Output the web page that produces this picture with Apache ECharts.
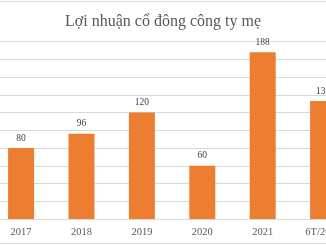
<!DOCTYPE html>
<html>
<head>
<meta charset="utf-8">
<script src="https://cdn.jsdelivr.net/npm/echarts@6/dist/echarts.min.js"></script>
<style>
  html, body { margin: 0; padding: 0; background: #ffffff; }
  #chart { width: 326px; height: 245px; }
</style>
</head>
<body>
<div id="chart"></div>
<script>
// Lợi nhuận cổ đông công ty mẹ (tỷ đồng)
const categories = ['2017', '2018', '2019', '2020', '2021', '6T/2022'];
const profit = [80, 96, 120, 60, 188, 133];
const yMin = 0;
const yMax = 200;
const yStep = 20;

const chart = echarts.init(document.getElementById('chart'), null, { renderer: 'canvas' });

chart.setOption({
  backgroundColor: '#ffffff',
  animation: false,
  title: {
    text: 'Lợi nhuận cổ đông công ty mẹ',
    left: 'center',
    top: 9,
    textStyle: {
      fontFamily: 'Liberation Serif',
      fontSize: 16,
      fontWeight: 'normal',
      color: '#595959'
    }
  },
  graphic: [
    { type: 'line', shape: { x1: 0, y1: 1.5, x2: 326, y2: 1.5 }, style: { stroke: '#d9d9d9', lineWidth: 1 } },
    { type: 'line', shape: { x1: 0, y1: 243.5, x2: 326, y2: 243.5 }, style: { stroke: '#d9d9d9', lineWidth: 1 } }
  ],
  grid: {
    left: -9.1,
    width: 362.4,
    top: 41.6,
    bottom: 26,
    containLabel: false,
    outerBoundsMode: 'none'
  },
  xAxis: {
    type: 'category',
    data: categories,
    axisLine: { show: true, lineStyle: { color: '#d9d9d9', width: 1 } },
    axisTick: { show: false },
    axisLabel: {
      margin: 8,
      fontFamily: 'Liberation Serif',
      fontSize: 10.5,
      color: '#595959'
    }
  },
  yAxis: {
    type: 'value',
    min: yMin,
    max: yMax,
    interval: yStep,
    axisLabel: { show: false },
    axisLine: { show: false },
    axisTick: { show: false },
    splitLine: { lineStyle: { color: '#d9d9d9', width: 1 } }
  },
  series: [{
    type: 'bar',
    data: profit,
    barWidth: 26,
    itemStyle: { color: '#ED7D31' },
    label: {
      show: true,
      position: 'top',
      distance: 5,
      fontFamily: 'Liberation Serif',
      fontSize: 9.5,
      color: '#404040'
    }
  }]
});
</script>
</body>
</html>
